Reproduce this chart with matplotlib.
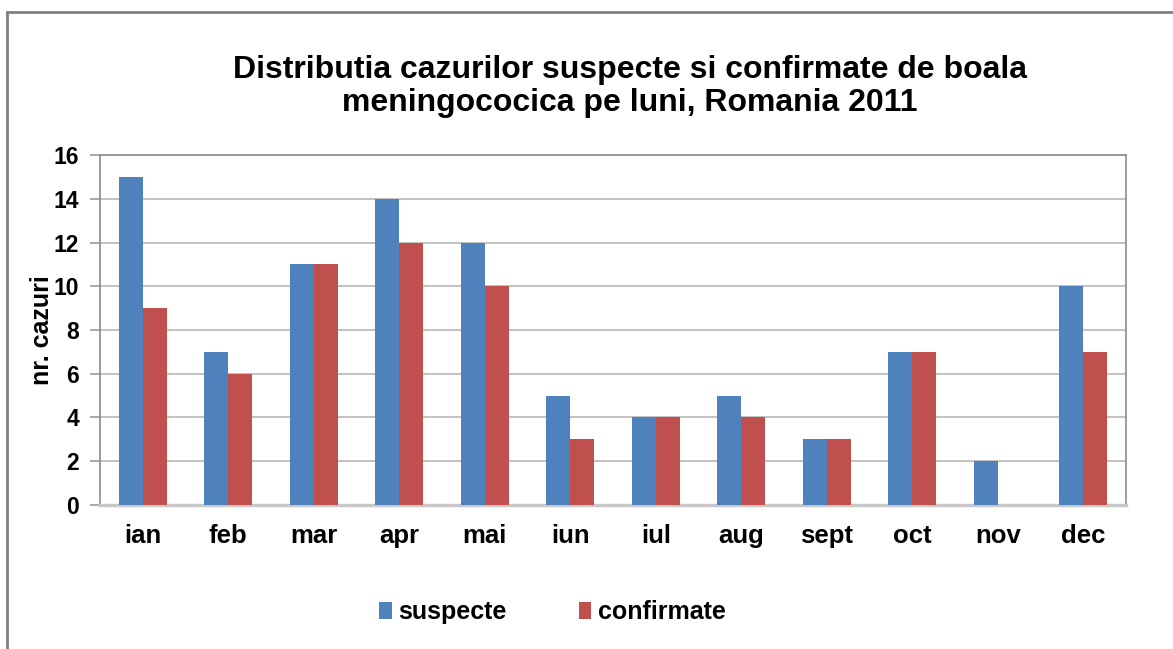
import matplotlib.pyplot as plt
from matplotlib.patches import Rectangle
import numpy as np

plt.rcParams['font.family'] = ['Liberation Sans', 'DejaVu Sans']

months = ['ian', 'feb', 'mar', 'apr', 'mai', 'iun', 'iul', 'aug', 'sept', 'oct', 'nov', 'dec']
suspecte = [15, 7, 11, 14, 12, 5, 4, 5, 3, 7, 2, 10]
confirmate = [9, 6, 11, 12, 10, 3, 4, 4, 3, 7, 0, 7]
yticks = [0, 2, 4, 6, 8, 10, 12, 14, 16]

fig = plt.figure(figsize=(11.73, 6.49), dpi=100)
ax = fig.add_axes([0.0853, 0.222, 0.8747, 0.539])

x = np.arange(len(months))
w = 0.28
ax.bar(x - w / 2, suspecte, w, color='#4F81BD', label='suspecte', zorder=3)
ax.bar(x + w / 2, confirmate, w, color='#C0504D', label='confirmate', zorder=3)

ax.set_xlim(-0.5, len(months) - 0.5)
ax.set_ylim(0, 16)
ax.set_yticks(yticks)
ax.set_xticks(x)
ax.set_xticklabels(months, fontsize=18.5, fontweight='bold')
ax.tick_params(axis='y', labelsize=16.5, length=7, color='#999999', width=1.2, pad=8)
for lab in ax.get_yticklabels():
    lab.set_fontweight('bold')
ax.tick_params(axis='x', length=0, pad=14)
ax.grid(axis='y', color='#bdbdbd', linewidth=1.3, zorder=0)
for side in ['left', 'top', 'right']:
    ax.spines[side].set_color('#8c8c8c')
    ax.spines[side].set_linewidth(1.2)
ax.spines['bottom'].set_color('#c8c8c8')
ax.spines['bottom'].set_linewidth(2.5)

ax.set_ylabel('nr. cazuri', fontsize=18, fontweight='bold', labelpad=0)

fig.text(0.537, 0.867, 'Distributia cazurilor suspecte si confirmate de boala\nmeningococica pe luni, Romania 2011',
         ha='center', va='center', fontsize=23, fontweight='bold', linespacing=1.12)

fig.legend(loc='center', bbox_to_anchor=(0.471, 0.057), ncol=2, frameon=False,
           prop={'size': 18, 'weight': 'bold'}, handlelength=0.5, handleheight=0.7,
           handletextpad=0.25, columnspacing=2.9)

fig.patches.append(Rectangle((0.006, -0.1), 1.2, 1.0815, transform=fig.transFigure,
                             fill=False, edgecolor='#808080', linewidth=2))

fig.savefig('out.png', dpi=100)
